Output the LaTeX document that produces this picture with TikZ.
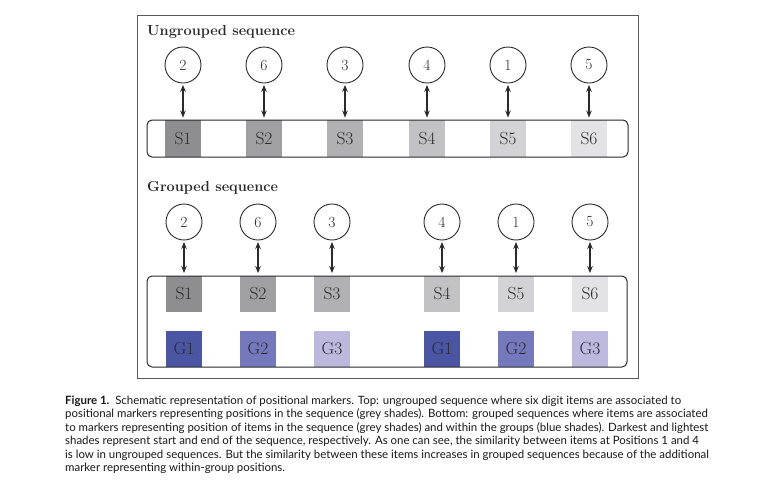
\documentclass[tikz,border=0pt]{standalone}
\usepackage{fontspec}
\newfontfamily\capfont{Lato}
\usetikzlibrary{arrows.meta}
\definecolor{sA}{HTML}{8E8E90}
\definecolor{sB}{HTML}{A0A0A2}
\definecolor{sC}{HTML}{B1B1B3}
\definecolor{sD}{HTML}{C2C2C4}
\definecolor{sE}{HTML}{D3D3D5}
\definecolor{sF}{HTML}{E3E3E5}
\definecolor{gA}{HTML}{4A55A4}
\definecolor{gB}{HTML}{7478BC}
\definecolor{gC}{HTML}{BCB8DE}
\definecolor{ink}{HTML}{2A2A2A}
\begin{document}
\begin{tikzpicture}[x=1pt,y=-1pt,
  every node/.style={text=ink},
  marker/.style={circle,draw=ink,line width=0.9pt,minimum size=36pt,inner sep=0pt,font=\fontsize{15.5}{15.5}\selectfont},
  sq/.style={rectangle,minimum width=36.5pt,minimum height=36.5pt,inner sep=0pt,font=\fontsize{17.5}{17.5}\selectfont},
  link/.style={{Stealth[length=7pt,width=5.5pt]}-{Stealth[length=7pt,width=5.5pt]},line width=1.2pt,draw=ink,shorten <=1.5pt,shorten >=2.5pt},
  bar/.style={draw=ink,line width=1pt,rounded corners=5pt},
  title/.style={anchor=base west,font=\fontsize{14.5}{14.5}\bfseries\selectfont,inner sep=0pt},
  capline/.style={anchor=base west,inner sep=0pt,font=\capfont\fontsize{11.45}{12}\selectfont,text=black!90}]
\useasboundingbox (0,0) rectangle (761,491);
\fill[white] (0,0) rectangle (761,491);
\draw[draw=black!65,line width=1pt] (137,15) rectangle (638,378);
% Ungrouped
\node[title] (t1) at (147,35) {Ungrouped sequence};
\foreach \i/\x/\d/\c in {1/183/2/sA,2/264/6/sB,3/345/3/sC,4/427/4/sD,5/508/1/sE,6/589/5/sF}{
  \node[sq,fill=\c] (s\i) at (\x,138.5) {S\i};
  \node[marker] (m\i) at (\x,65) {\d};
  \draw[link] (m\i.south) -- (s\i.north);
}
\draw[bar] (147,120) rectangle (628,157);
% Grouped
\node[title] (t2) at (147,191) {Grouped sequence};
\foreach \i/\x/\d/\c/\g/\gc in {1/184/2/sA/1/gA,2/258/6/sB/2/gB,3/332/3/sC/3/gC,4/442/4/sD/1/gA,5/516/1/sE/2/gB,6/590/5/sF/3/gC}{
  \node[sq,fill=\c] (u\i) at (\x,294) {S\i};
  \node[sq,fill=\gc] (g\i) at (\x,349) {G\g};
  \node[marker] (n\i) at (\x,222) {\d};
  \draw[link] (n\i.south) -- (u\i.north);
}
\draw[bar] (147,276) rectangle (627,367);
% Caption
\node[capline] (c1) at (65,404) {{\bfseries Figure 1.}\ \ Schematic representation of positional markers. Top: ungrouped sequence where six digit items are associated to};
\node[capline] (c2) at (65,417.5) {positional markers representing positions in the sequence (grey shades). Bottom: grouped sequences where items are associated};
\node[capline] (c3) at (65,431) {to markers representing position of items in the sequence (grey shades) and within the groups (blue shades). Darkest and lightest};
\node[capline] (c4) at (65,444.5) {shades represent start and end of the sequence, respectively. As one can see, the similarity between items at Positions 1 and 4};
\node[capline] (c5) at (65,458) {is low in ungrouped sequences. But the similarity between these items increases in grouped sequences because of the additional};
\node[capline] (c6) at (65,471.5) {marker representing within-group positions.};
\end{tikzpicture}
\end{document}
